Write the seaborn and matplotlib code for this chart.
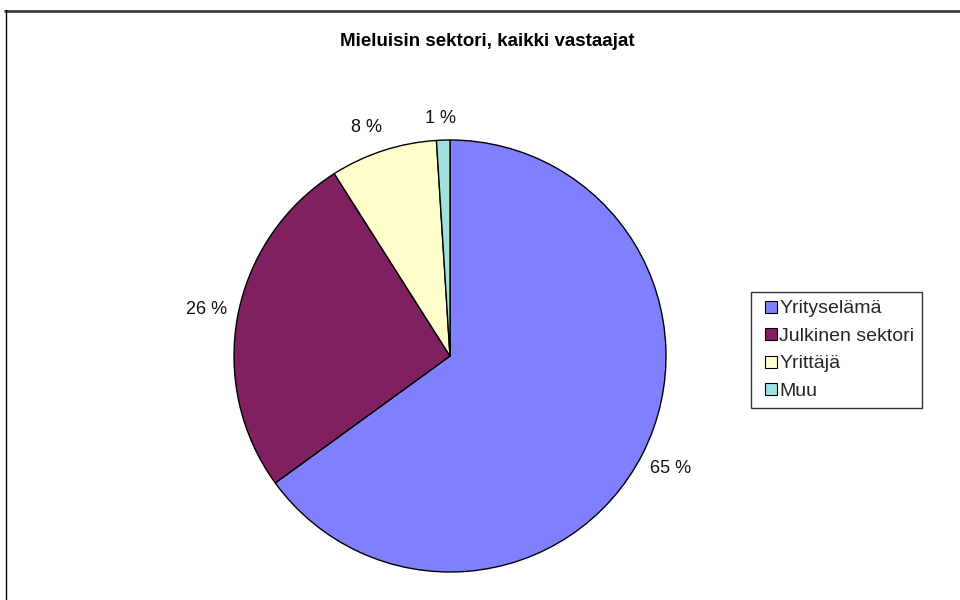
import numpy as np
import matplotlib
matplotlib.use("Agg")
import matplotlib.pyplot as plt
import seaborn as sns
from matplotlib.lines import Line2D

categories = ["Yrityselämä", "Julkinen sektori", "Yrittäjä", "Muu"]
values = [65, 26, 8, 1]
labels = ["65 %", "26 %", "8 %", "1 %"]
colors = ["#8080FF", "#802060", "#FFFFCC", "#A0E0E0"]

sns.set_theme(style="white")
plt.rcParams["font.family"] = ["Liberation Sans", "DejaVu Sans"]

fig = plt.figure(figsize=(9.6, 6), dpi=100)
fig.patch.set_facecolor("white")

# pie axes: bounding box in pixels x 234-666, y 140-572 (from top)
ax = fig.add_axes([234 / 960, 1 - 572 / 600, 432 / 960, 432 / 600])
wedges, texts = ax.pie(
    values,
    labels=labels,
    colors=colors,
    startangle=90,
    counterclock=False,
    labeldistance=1.145,
    wedgeprops=dict(edgecolor="black", linewidth=1.0),
    textprops=dict(fontsize=13, color="#111111"),
)
for t in texts:
    t.set_ha("center")
    t.set_va("center")
# small slices: labels nudged apart like the original
for t, ang, dist in [(texts[2], 110.0, 1.125), (texts[3], 92.2, 1.10)]:
    a = np.deg2rad(ang)
    t.set_position((dist * np.cos(a), dist * np.sin(a)))
ax.set_xlim(-1, 1)
ax.set_ylim(-1, 1)
ax.set_aspect("auto")
ax.axis("off")

# square legend keys drawn as markers so they sit inset from the frame
handles = [
    Line2D([], [], linestyle="none", marker="s", markersize=8.6,
           markerfacecolor=c, markeredgecolor="black", markeredgewidth=0.8)
    for c in colors
]
leg = fig.legend(
    handles,
    categories,
    loc="upper left",
    bbox_to_anchor=(751 / 960, 1 - 292 / 600),
    bbox_transform=fig.transFigure,
    borderaxespad=0,
    frameon=True,
    fancybox=False,
    fontsize=14,
    handlelength=1.3,
    handleheight=0.7,
    handletextpad=-0.24,
    labelspacing=0.51,
    borderpad=0.4,
)
leg.get_frame().set_edgecolor("black")
leg.get_frame().set_linewidth(1.0)

fig.text(487 / 960, 1 - 41 / 600, "Mieluisin sektori, kaikki vastaajat",
         ha="center", va="center", fontsize=13.5, fontweight="bold", color="black")

# chart-area frame (top and left edges visible)
fig.add_artist(Line2D([5 / 960, 1.0], [1 - 11 / 600, 1 - 11 / 600],
                      transform=fig.transFigure, color="#404040", linewidth=2))
fig.add_artist(Line2D([6 / 960, 6 / 960], [1 - 10 / 600, 0.0],
                      transform=fig.transFigure, color="black", linewidth=1))

fig.savefig("out.png", dpi=100, facecolor="white")
